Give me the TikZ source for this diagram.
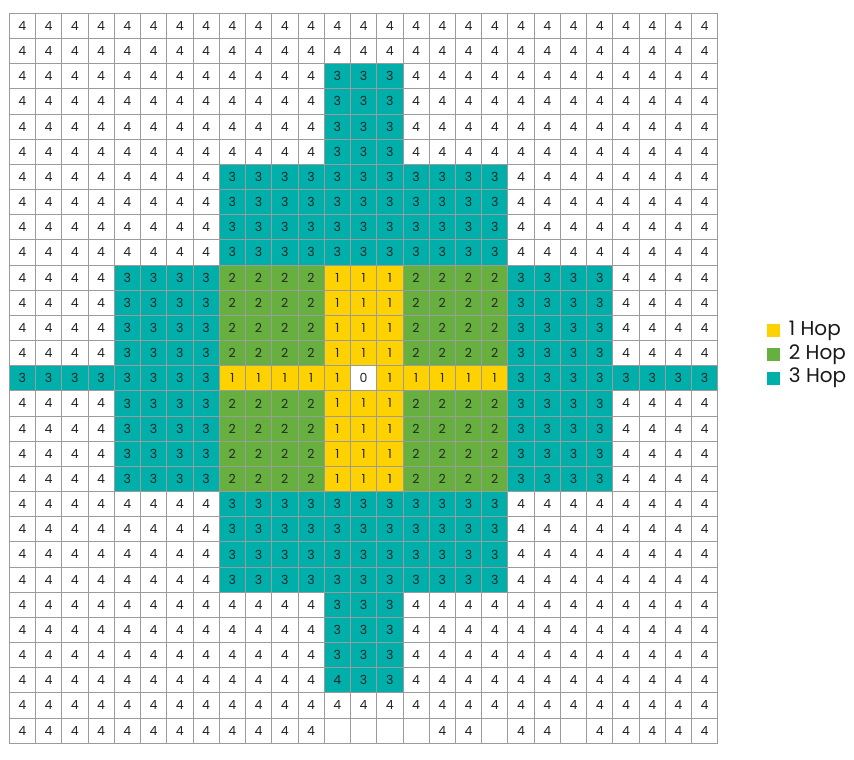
\documentclass[tikz,border=0pt]{standalone}
\usepackage{fontspec}
\setmainfont{Poppins}
\usetikzlibrary{positioning}

\definecolor{hopone}{RGB}{254,210,0}
\definecolor{hoptwo}{RGB}{103,176,63}
\definecolor{hopthree}{RGB}{0,175,170}
\definecolor{gridline}{RGB}{155,155,155}

\tikzset{
  cell/.style={draw=gridline, line width=0.8pt, minimum width=26.24pt,
    minimum height=25.17pt, inner sep=0pt, outer sep=0pt,
    font=\fontsize{12.5}{13}\selectfont, text=black!85},
  hop0/.style={fill=white},
  hop1/.style={fill=hopone},
  hop2/.style={fill=hoptwo},
  hop3/.style={fill=hopthree},
  hop4/.style={fill=white},
  legbox/.style={minimum size=13pt, inner sep=0pt},
  leglabel/.style={font=\fontsize{20}{20}\selectfont, inner sep=0pt, text=black!90},
}

% one row of the grid: row number, list of value/colour
\newcommand\hoprow[2]{%
  \foreach \v/\s [count=\col from 0] in #2 {
    \node[cell, hop\s] (c-#1-\col) at ({9.3+26.24*(\col+0.5)}, {13.3+25.17*(#1+0.5)}) {\v};
  }}

\def\rowfour{4,4,4,4,4,4,4,4,4,4,4,4,4,4,4,4,4,4,4,4,4,4,4,4,4,4,4}
\def\rowstem{4,4,4,4,4,4,4,4,4,4,4,4,3,3,3,4,4,4,4,4,4,4,4,4,4,4,4}
\def\rowbar{4,4,4,4,4,4,4,4,3,3,3,3,3,3,3,3,3,3,3,4,4,4,4,4,4,4,4}
\def\rowarm{4,4,4,4,3,3,3,3,2,2,2,2,1,1,1,2,2,2,2,3,3,3,3,4,4,4,4}
\def\rowmid{3,3,3,3,3,3,3,3,1,1,1,1,1,0,1,1,1,1,1,3,3,3,3,3,3,3,3}
\def\rowodd{4,4,4,4,4,4,4,4,4,4,4,4,4/3,3,3,4,4,4,4,4,4,4,4,4,4,4,4}
\def\rowlast{4,4,4,4,4,4,4,4,4,4,4,4,{}/4,{}/4,{}/4,{}/4,4,4,{}/4,4,4,{}/4,4,4,4,4,4}

\begin{document}
\begin{tikzpicture}[x=1pt, y=-1pt]
  \useasboundingbox (0,0) rectangle (854,760);

  % grid
  \foreach \rw in {0,1,27} {\hoprow{\rw}{\rowfour}}
  \foreach \rw in {2,3,4,5,23,24,25} {\hoprow{\rw}{\rowstem}}
  \foreach \rw in {6,7,8,9,19,20,21,22} {\hoprow{\rw}{\rowbar}}
  \foreach \rw in {10,11,12,13,15,16,17,18} {\hoprow{\rw}{\rowarm}}
  \hoprow{14}{\rowmid}
  \hoprow{26}{\rowodd}
  \hoprow{28}{\rowlast}

  % legend
  \node[legbox, fill=hopone] (key1) at (773,330.7) {};
  \node[legbox, fill=hoptwo] (key2) at (773,354.7) {};
  \node[legbox, fill=hopthree] (key3) at (773,378) {};
  \node[leglabel, right=9pt of key1] (lab1) {1 Hop};
  \node[leglabel, right=9pt of key2] (lab2) {2 Hop};
  \node[leglabel, right=9pt of key3] (lab3) {3 Hop};
\end{tikzpicture}
\end{document}
